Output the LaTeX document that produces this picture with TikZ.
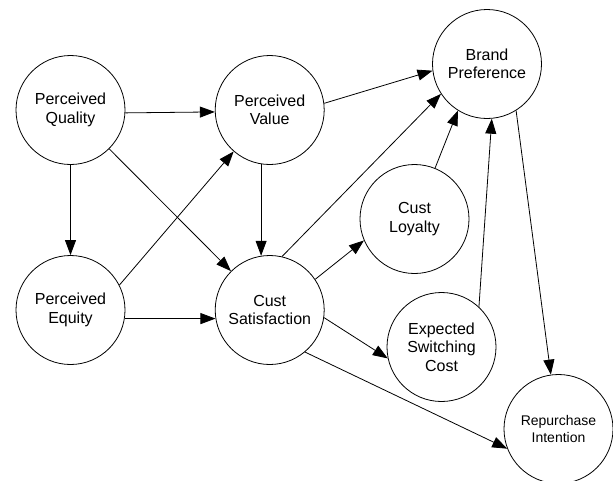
\documentclass[tikz,border=0pt]{standalone}
\usepackage{fontspec}
\setmainfont{Liberation Sans}
\usetikzlibrary{arrows.meta}
\begin{document}
\begin{tikzpicture}[x=1pt,y=1pt,
  var/.style={circle,draw,line width=0.8pt,minimum size=109pt,inner sep=0pt,align=center,font=\fontsize{16}{18.5}\selectfont},
  smalltext/.style={font=\fontsize{14}{17}\selectfont},
  link/.style={line width=0.8pt,-{Triangle[length=15pt,width=11pt]}}]
\useasboundingbox (0,0) rectangle (613,-480);
\node[var] (pq) at (70.5,-110) {Perceived\\Quality};
\node[var] (pv) at (269.7,-110) {Perceived\\Value};
\node[var] (bp) at (487,-64) {Brand\\Preference};
\node[var] (cl) at (414.5,-219) {Cust\\Loyalty};
\node[var] (pe) at (70.5,-310) {Perceived\\Equity};
\node[var] (cs) at (269.7,-310) {Cust\\Satisfaction};
\node[var] (esc) at (441.5,-347) {Expected\\Switching\\Cost};
\node[var,smalltext] (ri) at (558.5,-429) {Repurchase\\Intention};
\draw[link] (pq.-3) -- (pv.182);
\draw[link] (pq) -- (pe);
\draw[link] (pq) -- (cs);
\draw[link] (pe.27) -- (pv.229);
\draw[link] (pv.261) -- (cs.99);
\draw[link] (pe.-9) -- (cs.189);
\draw[link] (pv.7) -- (bp.187);
\draw[link] (cs.77) -- (bp.213);
\draw[link] (cl.68) -- (bp.238);
\draw[link] (esc.47) -- (bp.275);
\draw[link] (bp.302) -- (ri.98);
\draw[link] (cs.34) -- (cl.203);
\draw[link] (cs.-8) -- (esc.192);
\draw[link] (cs.-50) -- (ri.201);
\end{tikzpicture}
\end{document}
